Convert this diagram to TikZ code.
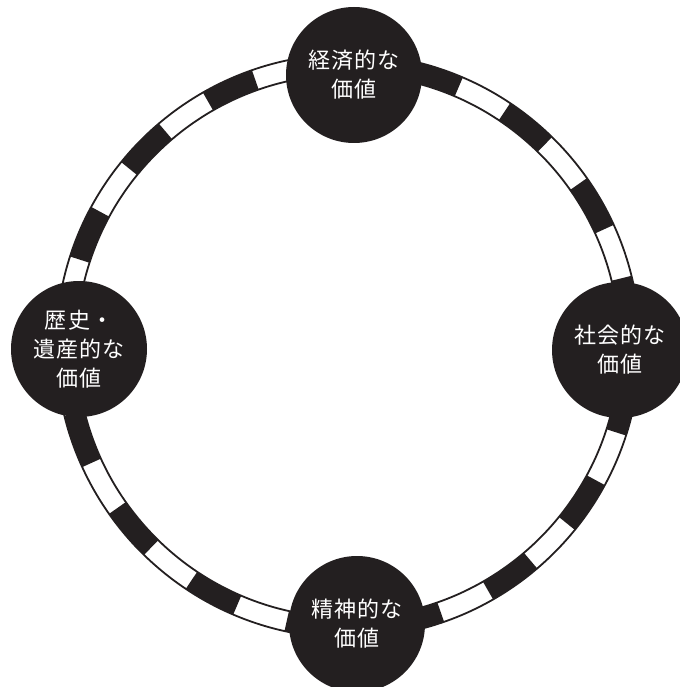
\documentclass[tikz,border=0pt]{standalone}
\usepackage{fontspec}
\newfontfamily\jpfont[LetterSpace=6]{Noto Sans CJK JP}
\definecolor{ink}{RGB}{35,31,32}
\begin{document}
\begin{tikzpicture}[x=1pt,y=1pt,line width=1.8pt,
  valnode/.style={circle,fill=ink,text=white,minimum size=136pt,inner sep=0pt,
    align=center,font=\jpfont\fontsize{22}{29}\selectfont}]
  \useasboundingbox (0,0) rectangle (679,-687);
  \coordinate (O) at (348,-346);

  % 圆环 (黑白相间)
  \foreach \k in {0,2,...,32}{
    \pgfmathsetmacro{\a}{24.5+\k*360/34}
    \pgfmathsetmacro{\b}{\a+360/34}
    \fill[ink,shift={(O)}] (\a:292) arc[start angle=\a,end angle=\b,radius=292]
      -- (\b:271.5) arc[start angle=\b,end angle=\a,radius=271.5] -- cycle;
  }
  \draw[ink] (O) circle[radius=292];
  \draw[ink] (O) circle[radius=271.5];

  % 四个价值
  \node[valnode] (keizai)  at (354,-75)  {経済的な\\価値};
  \node[valnode] (shakai)  at (620,-350) {社会的な\\価値};
  \node[valnode] (seishin) at (357,-624) {精神的な\\価値};
  \node[valnode] (rekishi) at (79,-349)  {歴史・\\遺産的な\\価値};
\end{tikzpicture}
\end{document}
